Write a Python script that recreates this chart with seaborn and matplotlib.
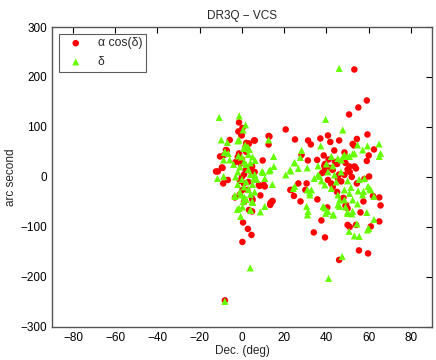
import numpy as np
import pandas as pd
import matplotlib
matplotlib.use("Agg")
import matplotlib.pyplot as plt
import seaborn as sns

# alpha*cos(delta) residuals (red circles)
ra_dec = [53.2, 59.1, 55.1, 50.7, 20.7, -1.4, 0.2, -1.7, -0.1, 13, 12.6, 6.1, -5.8, 2, 3,
          25.1, 31.3, 32.6, 37.1, 40.7, 41.8, 46, 52.4, 53, 54.4, 59.4, 62.5, 60, 59.1, 43.7,
          38.7, 35.6, 31.2, 28.2, -7.2, -10.4, -8.4, -9.5, -9.2, -11.4, -8.9, -6.7, 9.8, 8.3, 10.8,
          8.7, 13.5, 14.5, -3.3, 5, 4, 0.5, 2.8, 4.5, 0.2, 22.9, 24.6, 26.7, 30.6, 30,
          27.7, 35.7, 37.6, 34, 39.3, 48, 49, 50, 51, 56.1, 57.5, 65, 65.6, 65, 61,
          60.2, 58, 54.4, 53.3, 50, 51, 39.3, 40, 46, 55.4, 59.7, -8.1, 62,
          12.6, -0.3, 3.3, 5.7, 1.7, -7.6, -1.4, -0.6, 4.8, 2, -12.3, 1.7, 4, 6, 0.9,
          8, 10.3, 0.2, 2.5, 4.8, 14.2, 13.4, 3.3, 4.8, -2, 0, 1, -1, 3, 2, -3, 0, 1, -1,
          40.4, 39.2, 43, 45.4, 47, 42.2, 40.7, 48.5, 50.9, 54, 47.7, 49.3, 50, 54, 48.5,
          39, 42, 45, 23.5, 44, 46, 41, 43, 38, 45, 49, 52]
ra_val = [215, 153, 139, 125, 95, 109, 98, 91, 83, 81, 65, 73, 74, 68, 66,
          75, 73, 65, 77, 83, 70, 73, 66, 63, 76, 85, 55, 43, 32, 53,
          43, 34, 33, 44, 53, 41, 44, 19, 18, 11, -13, -6, 33, -18, -19,
          -37, -52, -48, -41, -46, -68, -91, -104, -116, -130, -26, -38, -13, -13, -26,
          -49, -45, -87, -111, -121, -42, -58, -96, -100, -71, -49, -41, -57, -89, -99,
          1, -4, -13, 21, 15, 10, 26, 21, -166, -147, -153, -247, -38,
          82, 84, 67, 73, 61, 54, 47, 27, 21, 18, 11, 14, 12, 10, -13,
          -16, -16, -26, -26, -43, -49, -56, -66, -69, 40, 35, 5, -8, -10, 50, 30, 0, -50, -35,
          -61, 14, 14, -3, -9, -13, -6, 4, 21, 17, -43, -56, -63, -96, 49,
          22, 18, 26, -26, 30, 5, 35, -20, 8, -30, 28, 0]

# delta residuals (green triangles)
de_dec = [46, -10.8, -1.3, 1.7, 0.5, 39.6, 47.7, -9.8, -6.9, -1.4, 12.6, 1.5, 2.8, 0.8, 3.5,
          -8, -5.8, -8.7, -8.3, -6.5, 28.2, 37.3, 27.6, 25, 30.9, 26.7, 20.7, 23.1, 15, 15.1,
          12.8, 10, 6.2, 10.8, 14.4, -11.6, -8.7, -3.4, -1.4, 0.2, 5.1, 8.7, 10.8, -0.6, 4.1,
          25, 30.9, 32.1, 31, 39.2, 39.6, 43.4, 46.2, 50, 52, 54.7, 57.1, 59.1, 62.5, 60,
          54.4, 50.7, 53.2, 55.5, 59.4, 64.9, 65.6, 65, 59.4, 54.7, 57.1, 52.4, 50.9, 47.9, 34.2,
          36, 32.9, 59.7, 61, 55, 52.4, 48.5, 50.9, 46.2, 3.9, 41, 47.4, -8.1, -2.2, -1.7,
          -2, 57.5, 62.5, 58, 55.5, 60.5,
          0, 1, 2, -1, 3, 4, 0, 2, 5, 1, 3, -1, 4, 2, 6, -2, 5, 3, -3, 1, 6, 7, -4, 4, -2,
          9.5, 13.4, 5.6, -3.3, -0.6, 4, 4.8, 0.6,
          22.8, 36.8, 24.3, 32.1, 38.4, 40.7, 43, 30.6, 31.3, 45.4, 49, 50, 52.4,
          39.2, 42.3, 45.4, 48.5, 40.7, 43.8, 37.6, 46.9, 50, 51.6, 44.6,
          24.8, 42.3, 45.4, 48.5, 50, 47, 53.2, 36, 40, 43]
de_val = [217, 119, 122, 104, 94, 115, 94, 74, 69, 74, 74, 64, 60, 57, 55,
          50, 34, 34, 49, 47, 53, 62, 39, 28, 18, 17, 4, 12, 41, 21,
          12, 9, 33, -3, -15, -3, 1, -37, -63, -60, -51, -70, -59, -79, -67,
          -19, -26, -31, -76, -62, -73, -76, -59, -73, -74, -54, -36, -71, -85, -103,
          -94, -109, -118, -119, -106, 66, 47, 41, 62, 64, 54, 46, 41, 41, -3,
          4, -26, -19, -26, -28, -46, -46, -33, -46, -182, -203, -159, -249, -65, 42,
          72, -29, -39, -3, -5, -24,
          40, 30, 25, 20, 15, 5, -5, -10, -15, -20, -25, -30, -35, -45, -30, 10, 40, 45, 0, -40, 5, -5, 25, 28, -15,
          11, 14, -3, -39, -36, -66, -49, -49,
          14, 1, -23, -36, -59, -69, -76, -59, -69, -56, -60, -70, -69,
          -16, -23, -36, -26, 10, 4, -8, 10, -8, -21, -10,
          29, 41, 37, 44, 41, 34, 47, 22, 26, 22]

ra_df = pd.DataFrame({"dec": ra_dec, "val": ra_val})
de_df = pd.DataFrame({"dec": de_dec, "val": de_val})

sns.set_style("white")
plt.rcParams["font.family"] = ["Liberation Sans", "DejaVu Sans"]

fig = plt.figure(figsize=(4.36, 3.6), dpi=100)
ax = fig.add_axes([0.119, 0.092, 0.872, 0.833])

sns.scatterplot(data=ra_df, x="dec", y="val", ax=ax, color="#ff0000", marker="o",
                s=22, edgecolor="none", label="\u03b1 cos(\u03b4)")
sns.scatterplot(data=de_df, x="dec", y="val", ax=ax, color="#66ff00", marker="^",
                s=26, edgecolor="none", label="\u03b4")

ax.set_xlim(-90, 90)
ax.set_ylim(-300, 300)
ax.set_xticks(np.arange(-80, 81, 20))
ax.set_yticks(np.arange(-300, 301, 100))
ax.tick_params(direction="in", top=True, right=True, length=4, width=0.8,
               labelsize=8.5, colors="black")
for sp in ax.spines.values():
    sp.set_color("#555555")
    sp.set_linewidth(1.0)

ax.set_xlabel("Dec. (deg)", fontsize=8.5, labelpad=1)
ax.set_ylabel("arc second", fontsize=8.5, labelpad=2)
ax.set_title("DR3Q \u2212 VCS", fontsize=8.5, pad=6)

leg = ax.legend(loc="upper left", fontsize=8.8, frameon=True, fancybox=False,
                borderpad=0.3, labelspacing=0.55, handletextpad=0.7,
                borderaxespad=0.55, handlelength=2.2)
leg.get_frame().set_edgecolor("#333333")
leg.get_frame().set_linewidth(0.8)

fig.savefig("out.png", dpi=100)
